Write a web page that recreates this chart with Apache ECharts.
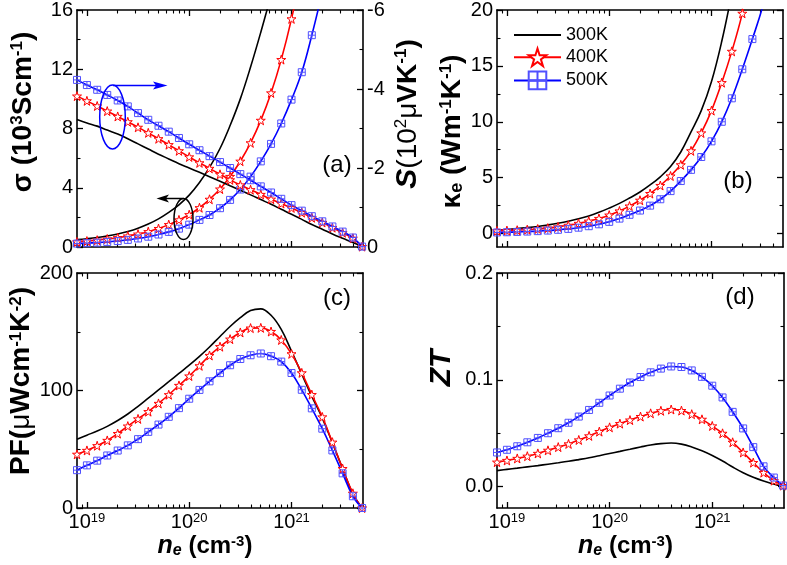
<!DOCTYPE html>
<html><head><meta charset="utf-8">
<script src="https://cdn.jsdelivr.net/npm/echarts@6/dist/echarts.min.js"></script>
<style>html,body{margin:0;padding:0;background:#fff}#c{width:787px;height:565px}</style>
</head><body><div id="c"></div>
<script>
const FONT = 'Liberation Sans';
const temps = ['300K', '400K', '500K'];
// electron concentration n_e (cm^-3)
const neValues = [8e18, 1e19, 1.26e19, 1.58e19, 2e19, 2.51e19, 3.16e19, 3.98e19, 5.01e19, 6.31e19, 7.94e19,
  1e20, 1.26e20, 1.58e20, 2e20, 2.51e20, 3.16e20, 3.98e20, 5.01e20, 6.31e20, 7.94e20,
  1e21, 1.26e21, 1.58e21, 2e21, 2.51e21, 3.16e21, 3.98e21, 4.9e21];
// (a) conductivity sigma (10^3 S/cm)
const sigma300 = [0.50, 0.56, 0.64, 0.75, 0.88, 1.05, 1.27, 1.55, 1.90, 2.34, 2.85, 3.50, 4.35, 5.37, 6.65, 8.20, 10.0, 12.15, 14.5, 17.0, null, null, null, null, null, null, null, null, null];
const sigma400 = [0.34, 0.40, 0.46, 0.54, 0.63, 0.74, 0.87, 1.035, 1.245, 1.51, 1.83, 2.18, 2.65, 3.22, 3.91, 4.76, 5.79, 7.03, 8.55, 10.4, 12.65, 15.4, 18.7, null, null, null, null, null, null];
const sigma500 = [0.23, 0.26, 0.296, 0.342, 0.40, 0.48, 0.575, 0.695, 0.843, 1.02, 1.24, 1.51, 1.83, 2.16, 2.62, 3.18, 3.88, 4.75, 5.78, 6.96, 8.34, 9.95, 11.8, 14.3, 17.2, null, null, null, null];
// (a) Seebeck coefficient S (10^2 uV/K)
const seebeck300 = [-3.23, -3.14, -3.06, -2.96, -2.86, -2.74, -2.61, -2.48, -2.35, -2.23, -2.11, -2.00, -1.89, -1.78, -1.665, -1.55, -1.435, -1.32, -1.20, -1.08, -0.955, -0.83, -0.70, -0.57, -0.45, -0.33, -0.22, -0.115, -0.01];
const seebeck400 = [-3.82, -3.70, -3.57, -3.44, -3.305, -3.17, -3.03, -2.89, -2.74, -2.59, -2.435, -2.28, -2.13, -1.99, -1.84, -1.70, -1.57, -1.45, -1.33, -1.21, -1.10, -0.99, -0.87, -0.74, -0.62, -0.49, -0.36, -0.22, -0.01];
const seebeck500 = [-4.23, -4.10, -3.98, -3.85, -3.71, -3.56, -3.39, -3.22, -3.07, -2.92, -2.76, -2.60, -2.45, -2.30, -2.15, -2.00, -1.845, -1.69, -1.535, -1.38, -1.22, -1.06, -0.92, -0.78, -0.65, -0.52, -0.39, -0.24, -0.01];
// (b) electronic thermal conductivity kappa_e (W m^-1 K^-1)
const kappa300 = [0.32, 0.37, 0.44, 0.53, 0.64, 0.77, 0.92, 1.10, 1.32, 1.58, 1.90, 2.28, 2.70, 3.18, 3.72, 4.35, 5.08, 6.00, 7.30, 9.10, 11.0, 13.6, 17.2, 21.5, null, null, null, null, null];
const kappa400 = [0.24, 0.27, 0.30, 0.35, 0.41, 0.49, 0.60, 0.74, 0.91, 1.11, 1.35, 1.65, 2.02, 2.46, 2.98, 3.58, 4.30, 5.15, 6.15, 7.40, 9.00, 11.0, 13.5, 16.3, 19.7, 24.0, null, null, null];
const kappa500 = [0.10, 0.12, 0.15, 0.18, 0.22, 0.27, 0.34, 0.42, 0.53, 0.66, 0.83, 1.05, 1.34, 1.68, 2.06, 2.50, 3.07, 3.80, 4.70, 5.70, 6.85, 8.25, 10.0, 12.1, 14.7, 17.4, 20.3, 24.0, null];
// (c) power factor PF (uW cm^-1 K^-2)
const pf300 = [58.6, 62.0, 65.5, 69.5, 74.5, 80.0, 86.5, 93.5, 100.5, 107.5, 114.5, 121.5, 129.0, 137.0, 146.0, 154.5, 162.0, 168.0, 169.5, 164.0, 152.0, 133.5, 114.0, 95.0, 76.5, 55.5, 33.5, 12.0, 0.0];
const pf400 = [45.7, 49.0, 53.0, 57.5, 63.3, 69.7, 75.8, 82.0, 89.0, 96.4, 104.3, 112.3, 121.0, 129.8, 137.3, 143.7, 149.4, 153.1, 153.3, 150.2, 143.0, 131.2, 115.0, 96.5, 77.5, 56.0, 33.5, 12.5, 0.0];
const pf500 = [32.2, 36.3, 40.3, 44.7, 48.9, 53.3, 58.6, 64.8, 71.0, 77.6, 85.0, 93.0, 100.5, 107.8, 114.8, 121.5, 126.8, 130.0, 131.5, 129.2, 124.6, 114.9, 100.6, 84.8, 67.5, 49.0, 29.5, 10.0, 0.0];
// (d) figure of merit ZT
const zt300 = [0.0150, 0.0162, 0.0173, 0.0185, 0.0197, 0.0210, 0.0223, 0.0237, 0.0253, 0.0270, 0.0290, 0.0310, 0.0330, 0.0350, 0.0371, 0.0390, 0.0403, 0.0408, 0.0398, 0.0372, 0.0336, 0.0292, 0.0240, 0.0184, 0.0130, 0.0087, 0.0052, 0.0024, 0.0];
const zt400 = [0.0229, 0.0245, 0.0264, 0.0285, 0.0311, 0.0340, 0.0370, 0.0400, 0.0437, 0.0475, 0.0515, 0.0555, 0.0590, 0.0623, 0.0656, 0.0686, 0.0710, 0.0722, 0.0712, 0.0678, 0.0630, 0.0568, 0.0499, 0.0415, 0.0320, 0.0225, 0.0131, 0.0056, 0.0010];
const zt500 = [0.0320, 0.0345, 0.0378, 0.0415, 0.0456, 0.0500, 0.0547, 0.0598, 0.0656, 0.0718, 0.0785, 0.0853, 0.0917, 0.0975, 0.1026, 0.1070, 0.1105, 0.1125, 0.1120, 0.1088, 0.1028, 0.0945, 0.0835, 0.0700, 0.0545, 0.0370, 0.0190, 0.0085, 0.0010];
// axis ticks
const xMajorTicks = [1e19, 1e20, 1e21];
const xMinorTicks = [9e18, 2e19, 3e19, 4e19, 5e19, 6e19, 7e19, 8e19, 9e19, 2e20, 3e20, 4e20, 5e20, 6e20, 7e20, 8e20, 9e20, 2e21, 3e21, 4e21];
const sigmaTicks = [0, 4, 8, 12, 16], sigmaMinor = [2, 6, 10, 14];
const seebeckTicks = [-6, -4, -2, 0], seebeckMinor = [-5, -3, -1];
const kappaTicks = [0, 5, 10, 15, 20], kappaMinor = [2.5, 7.5, 12.5, 17.5];
const pfTicks = [0, 100, 200], pfMinor = [50, 150];
const ztTicks = [0, 0.1, 0.2], ztMinor = [0.05, 0.15];

const X_MIN = 8e18, X_MAX = 5e21;
const grids = [
  {left: 77, top: 10, width: 286, height: 237},
  {left: 497, top: 10, width: 286, height: 237},
  {left: 77, top: 273, width: 286, height: 235},
  {left: 497, top: 273, width: 287, height: 235}
];

const STAR = 'path://M50,0 L61.8,35.5 L99,35.5 L69,57.5 L80.5,93 L50,71 L19.5,93 L31,57.5 L1,35.5 L38.2,35.5 Z';
const SQ = 'path://M0,0 L10,0 L10,10 L0,10 Z M5,0 L5,10 M0,5 L10,5';

const YT = 28, YS = 17;
const rich = {
  t: {fontSize: YT, fontWeight: 'bold', fontFamily: FONT, color: '#000'},
  tn: {fontSize: YT, fontWeight: 'normal', fontFamily: FONT, color: '#000'},
  ti: {fontSize: YT + 2, fontWeight: 'bold', fontStyle: 'italic', fontFamily: FONT, color: '#000'},
  s: {fontSize: YS, fontWeight: 'bold', fontFamily: FONT, color: '#000', verticalAlign: 'top'},
  sn: {fontSize: YS, fontWeight: 'normal', fontFamily: FONT, color: '#000', verticalAlign: 'top'},
  sub: {fontSize: YS + 1, fontWeight: 'bold', fontFamily: FONT, color: '#000', verticalAlign: 'bottom'}
};
const xrich = {
  t: {fontSize: 24, fontWeight: 'bold', fontFamily: FONT, color: '#000'},
  ti: {fontSize: 25, fontWeight: 'bold', fontStyle: 'italic', fontFamily: FONT, color: '#000'},
  s: {fontSize: 15, fontWeight: 'bold', fontFamily: FONT, color: '#000', verticalAlign: 'top'},
  subi: {fontSize: 16, fontWeight: 'bold', fontStyle: 'italic', fontFamily: FONT, color: '#000', verticalAlign: 'bottom'}
};

function axisPair(base, majors, minors, showLabel, labelOpt, nameOpt) {
  const major = Object.assign({}, base, {
    axisLine: {show: true, onZero: false, lineStyle: {color: '#000', width: 1.6}},
    axisTick: {show: true, inside: true, length: 6, customValues: majors, lineStyle: {color: '#000', width: 1.3}},
    axisLabel: Object.assign({show: showLabel, customValues: majors, color: '#000', fontSize: 20, fontFamily: FONT, margin: 4}, labelOpt || {}),
    splitLine: {show: false}
  }, nameOpt || {});
  const minor = Object.assign({}, base, {
    axisLine: {show: false, onZero: false},
    axisTick: {show: true, inside: true, length: 3.5, customValues: minors, lineStyle: {color: '#000', width: 1.1}},
    axisLabel: {show: false},
    splitLine: {show: false}
  });
  return [major, minor];
}

const xAxes = [], yAxes = [];
const xNameOpt = {
  name: '{ti|n}{subi|e}{t| (cm}{s|-3}{t|)}', nameLocation: 'middle', nameGap: 26,
  nameTextStyle: {rich: xrich, padding: [0, 30, 0, 0]}
};
const xLabelOpt = {
  formatter: v => '10{s|' + Math.round(Math.log10(v)) + '}',
  rich: {s: {fontSize: 13, fontFamily: FONT, color: '#000', verticalAlign: 'top'}}
};
const yCfg = [
  {min: 0, max: 16, ticks: sigmaTicks, minor: sigmaMinor, fmt: v => String(v),
   name: '{t|σ (10}{s|3}{t|Scm}{s|-1}{t|)}', gap: 40, pad: [0, 0, 0, 33]},
  {min: -1.2, max: 20, ticks: kappaTicks, minor: kappaMinor, fmt: v => String(v),
   name: '{t|κ}{sub|e}{t| (Wm}{s|-1}{t|K}{s|-1}{t|)}', gap: 31, pad: [0, 6, 0, 0]},
  {min: 0, max: 200, ticks: pfTicks, minor: pfMinor, fmt: v => String(v),
   name: '{t|PF(}{tn|μ}{t|Wcm}{s|-1}{t|K}{s|-2}{t|)}', gap: 38, pad: [0, 0, 0, 19]},
  {min: -0.02, max: 0.2, ticks: ztTicks, minor: ztMinor, fmt: v => v.toFixed(1),
   name: '{ti|ZT}', gap: 40, pad: [0, 0, 0, 45]}
];

grids.forEach((g, gi) => {
  const xb = {gridIndex: gi, type: 'log', logBase: 10, min: X_MIN, max: X_MAX, position: 'bottom'};
  const xt = Object.assign({}, xb, {position: 'top'});
  const bottomLabels = gi >= 2;
  xAxes.push(...axisPair(xb, xMajorTicks, xMinorTicks, bottomLabels, xLabelOpt, bottomLabels ? xNameOpt : null));
  xAxes.push(...axisPair(xt, xMajorTicks, xMinorTicks, false));
  const c = yCfg[gi];
  const yl = {gridIndex: gi, type: 'value', min: c.min, max: c.max, position: 'left'};
  yAxes.push(...axisPair(yl, c.ticks, c.minor, true, {formatter: c.fmt},
    {name: c.name, nameLocation: 'middle', nameGap: c.gap, nameRotate: 90, nameTextStyle: {rich: rich, padding: c.pad}}));
  if (gi === 0) {
    const yr = {gridIndex: 0, type: 'value', min: -6, max: 0, inverse: true, position: 'right'};
    yAxes.push(...axisPair(yr, seebeckTicks, seebeckMinor, true, {formatter: v => String(v)},
      {name: '{ti|S}{tn|(10}{sn|2}{tn|μ}{t|VK}{s|-1}{t|)}', nameLocation: 'middle', nameGap: 30, nameRotate: 90,
       nameTextStyle: {rich: rich, padding: [0, 0, 0, 29]}}));
  } else {
    const yr = {gridIndex: gi, type: 'value', min: c.min, max: c.max, position: 'right'};
    yAxes.push(...axisPair(yr, c.ticks, c.minor, false));
  }
});

const styles = {
  '300K': {symbol: 'none', lineStyle: {color: '#000', width: 1.6}, itemStyle: {color: '#000'}},
  '400K': {symbol: STAR, symbolSize: 9, lineStyle: {color: '#ff0000', width: 1.6},
           itemStyle: {color: '#ffffff', borderColor: '#ff0000', borderWidth: 1}},
  '500K': {symbol: SQ, symbolSize: 7, lineStyle: {color: '#0000ff', width: 1.6},
           itemStyle: {color: 'rgba(255,255,255,0)', borderColor: '#5050ff', borderWidth: 1}}
};
function pairs(ys) {
  const out = [];
  neValues.forEach((n, i) => { if (ys[i] !== null) out.push([n, ys[i]]); });
  return out;
}
function mk(name, ys, xi, yi) {
  return Object.assign({
    type: 'line', name: name, data: pairs(ys), xAxisIndex: xi, yAxisIndex: yi,
    smooth: 0.4, showSymbol: true, clip: true,
    emphasis: {disabled: true}, animation: false
  }, styles[name]);
}
const panelData = [
  [[sigma300, sigma400, sigma500], 0, 0],
  [[seebeck300, seebeck400, seebeck500], 0, 2],
  [[kappa300, kappa400, kappa500], 4, 4],
  [[pf300, pf400, pf500], 8, 8],
  [[zt300, zt400, zt500], 12, 12]
];
const series = [];
panelData.forEach(([sets, xi, yi]) => {
  sets.forEach((ys, k) => series.push(mk(temps[k], ys, xi, yi)));
});

const blue = '#0000ff';
const graphic = [
  {type: 'text', x: 337, y: 165, style: {text: '(a)', fontSize: 24, fontFamily: FONT, fill: '#000', align: 'center', verticalAlign: 'middle'}},
  {type: 'text', x: 738, y: 181, style: {text: '(b)', fontSize: 24, fontFamily: FONT, fill: '#000', align: 'center', verticalAlign: 'middle'}},
  {type: 'text', x: 337, y: 298, style: {text: '(c)', fontSize: 24, fontFamily: FONT, fill: '#000', align: 'center', verticalAlign: 'middle'}},
  {type: 'text', x: 740, y: 297, style: {text: '(d)', fontSize: 24, fontFamily: FONT, fill: '#000', align: 'center', verticalAlign: 'middle'}},
  {type: 'ellipse', shape: {cx: 112.5, cy: 117, rx: 12.8, ry: 32}, style: {fill: 'none', stroke: blue, lineWidth: 1.5}, z: 50},
  {type: 'line', shape: {x1: 113, y1: 85.5, x2: 157, y2: 85.5}, style: {stroke: blue, lineWidth: 1.5}, z: 50},
  {type: 'polygon', shape: {points: [[153, 81.5], [167.5, 85.5], [153, 89.5], [156, 85.5]]}, style: {fill: blue}, z: 50},
  {type: 'ellipse', shape: {cx: 183.5, cy: 219, rx: 9.5, ry: 20.5}, style: {fill: 'none', stroke: '#000', lineWidth: 1.5}, z: 50},
  {type: 'line', shape: {x1: 183.5, y1: 198.5, x2: 162, y2: 198.5}, style: {stroke: '#000', lineWidth: 1.5}, z: 50},
  {type: 'polygon', shape: {points: [[169, 194.5], [156.5, 198.5], [169, 202.5], [166, 198.5]]}, style: {fill: '#000'}, z: 50}
];

const chart = echarts.init(document.getElementById('c'), null, {renderer: 'canvas'});
chart.setOption({
  animation: false,
  backgroundColor: '#ffffff',
  textStyle: {fontFamily: FONT},
  grid: grids.map(g => Object.assign({containLabel: false, show: false}, g)),
  xAxis: xAxes,
  yAxis: yAxes,
  legend: {
    data: [{name: '300K', itemStyle: {opacity: 0}}, {name: '400K'}, {name: '500K'}],
    orient: 'vertical', left: 508, top: 21, itemWidth: 47, itemHeight: 22, itemGap: 3.5,
    selectedMode: false, textStyle: {fontSize: 18, fontFamily: FONT, color: '#000'}
  },
  series: series,
  graphic: graphic
});
</script></body></html>
